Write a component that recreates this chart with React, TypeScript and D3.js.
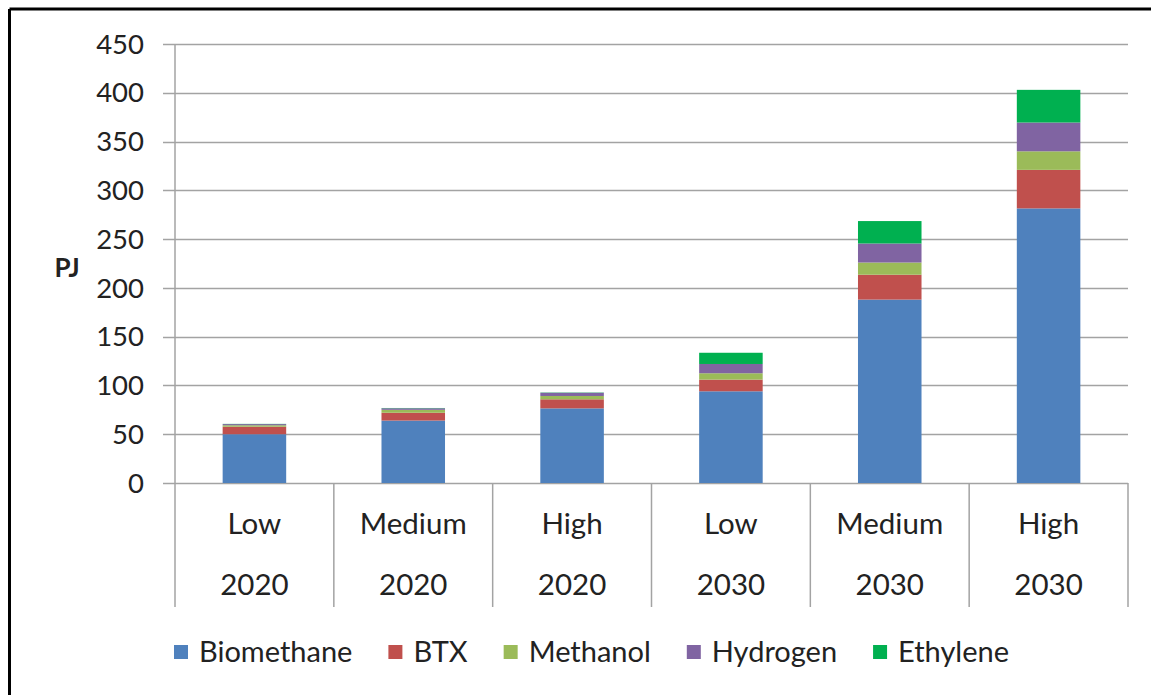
import React, { useMemo } from "react";
import * as d3 from "d3";

const scenarios = ["Low", "Medium", "High", "Low", "Medium", "High"];
const years = ["2020", "2020", "2020", "2030", "2030", "2030"];
const seriesNames = ["Biomethane", "BTX", "Methanol", "Hydrogen", "Ethylene"];
const seriesColors = ["#4F81BD", "#C0504D", "#9BBB59", "#8064A2", "#00B050"];
const biomethane = [50, 64, 76.5, 94, 188, 281.5];
const btx = [7.7, 8, 9.3, 12, 25.5, 39.5];
const methanol = [1.5, 3, 3.4, 6.5, 12.5, 19];
const hydrogen = [1.2, 1.6, 3.3, 9.5, 19.5, 29.5];
const ethylene = [0.2, 0.3, 0.3, 11.5, 23, 33.5];
const yTicks = [0, 50, 100, 150, 200, 250, 300, 350, 400, 450];

const FONT = "Lato, 'Open Sans', sans-serif";
const TEXT = "#222222";
const GRID = "#A3A3A3";

export default function App() {
  const W = 1151;
  const H = 695;
  const left = 175;
  const right = 1128;
  const top = 44;
  const bottom = 483;
  const catBottom = 607;

  const keys = useMemo(() => scenarios.map((_, i) => String(i)), []);
  const x = d3.scaleBand<string>().domain(keys).range([left, right]).padding(0);
  const y = d3.scaleLinear().domain([0, 450]).range([bottom, top]);
  const barW = x.bandwidth() / 2.5;

  const rows = scenarios.map((s, i) => ({
    key: String(i),
    Biomethane: biomethane[i],
    BTX: btx[i],
    Methanol: methanol[i],
    Hydrogen: hydrogen[i],
    Ethylene: ethylene[i],
  }));
  const stacked = d3.stack<any>().keys(seriesNames)(rows);

  const legendFontSize = 29;
  const legendLayout = useMemo(() => {
    let widths: number[] = seriesNames.map((n) => n.length * 15);
    try {
      const c = document.createElement("canvas").getContext("2d");
      if (c) {
        c.font = `${legendFontSize}px ${FONT}`;
        widths = seriesNames.map((n) => c.measureText(n).width);
      }
    } catch (e) {}
    const sq = 14;
    const gapIn = 11;
    const gapOut = 36;
    const total =
      widths.reduce((a, b) => a + b, 0) + seriesNames.length * (sq + gapIn) + (seriesNames.length - 1) * gapOut;
    let cx = 591.5 - total / 2;
    return widths.map((w) => {
      const item = { sx: cx, tx: cx + sq + gapIn };
      cx += sq + gapIn + w + gapOut;
      return item;
    });
  }, []);

  const boundaries = [...keys.map((k) => x(k) as number), right];

  return (
    <svg
      width={W}
      height={H}
      style={{ position: "absolute", left: 0, top: 0, background: "#fff" }}
      fontFamily={FONT}
    >
      <rect x={0} y={0} width={W} height={H} fill="#fff" />
      {/* outer frame */}
      <line x1={9.5} y1={9} x2={W} y2={9} stroke="#000" strokeWidth={3} />
      <line x1={9.5} y1={9} x2={9.5} y2={H} stroke="#000" strokeWidth={3} />

      {/* gridlines and y ticks */}
      {yTicks.map((t) => (
        <g key={t}>
          <line x1={163} x2={right} y1={Math.round(y(t)) + 0.5} y2={Math.round(y(t)) + 0.5} stroke={GRID} strokeWidth={1.5} />
          <text x={144} y={y(t)} dy="0.35em" textAnchor="end" fontSize={27.5} fill={TEXT}>
            {t}
          </text>
        </g>
      ))}
      {/* y axis line */}
      <line x1={left} x2={left} y1={top} y2={bottom} stroke={GRID} strokeWidth={1.5} />

      {/* category separators */}
      {boundaries.map((b, i) => (
        <line key={i} x1={b} x2={b} y1={bottom} y2={catBottom} stroke={GRID} strokeWidth={1.5} />
      ))}

      {/* bars */}
      {stacked.map((layer, si) => (
        <g key={seriesNames[si]} fill={seriesColors[si]}>
          {layer.map((d, i) => (
            <rect
              key={i}
              x={(x(String(i)) as number) + x.bandwidth() / 2 - barW / 2}
              width={barW}
              y={y(d[1])}
              height={Math.max(0, y(d[0]) - y(d[1]))}
            />
          ))}
        </g>
      ))}

      {/* category labels */}
      {keys.map((k, i) => (
        <g key={k}>
          <text x={(x(k) as number) + x.bandwidth() / 2} y={524} dy="0.35em" textAnchor="middle" fontSize={29.5} fill={TEXT}>
            {scenarios[i]}
          </text>
          <text x={(x(k) as number) + x.bandwidth() / 2} y={585} dy="0.35em" textAnchor="middle" fontSize={29.5} fill={TEXT}>
            {years[i]}
          </text>
        </g>
      ))}

      {/* axis title */}
      <text x={67} y={268} dy="0.35em" textAnchor="middle" fontSize={26} fontWeight="bold" fill={TEXT}>
        PJ
      </text>

      {/* legend */}
      {seriesNames.map((n, i) => (
        <g key={n}>
          <rect x={legendLayout[i].sx} y={645} width={14} height={14} fill={seriesColors[i]} />
          <text x={legendLayout[i].tx} y={652} dy="0.35em" fontSize={legendFontSize} fill={TEXT}>
            {n}
          </text>
        </g>
      ))}
    </svg>
  );
}
